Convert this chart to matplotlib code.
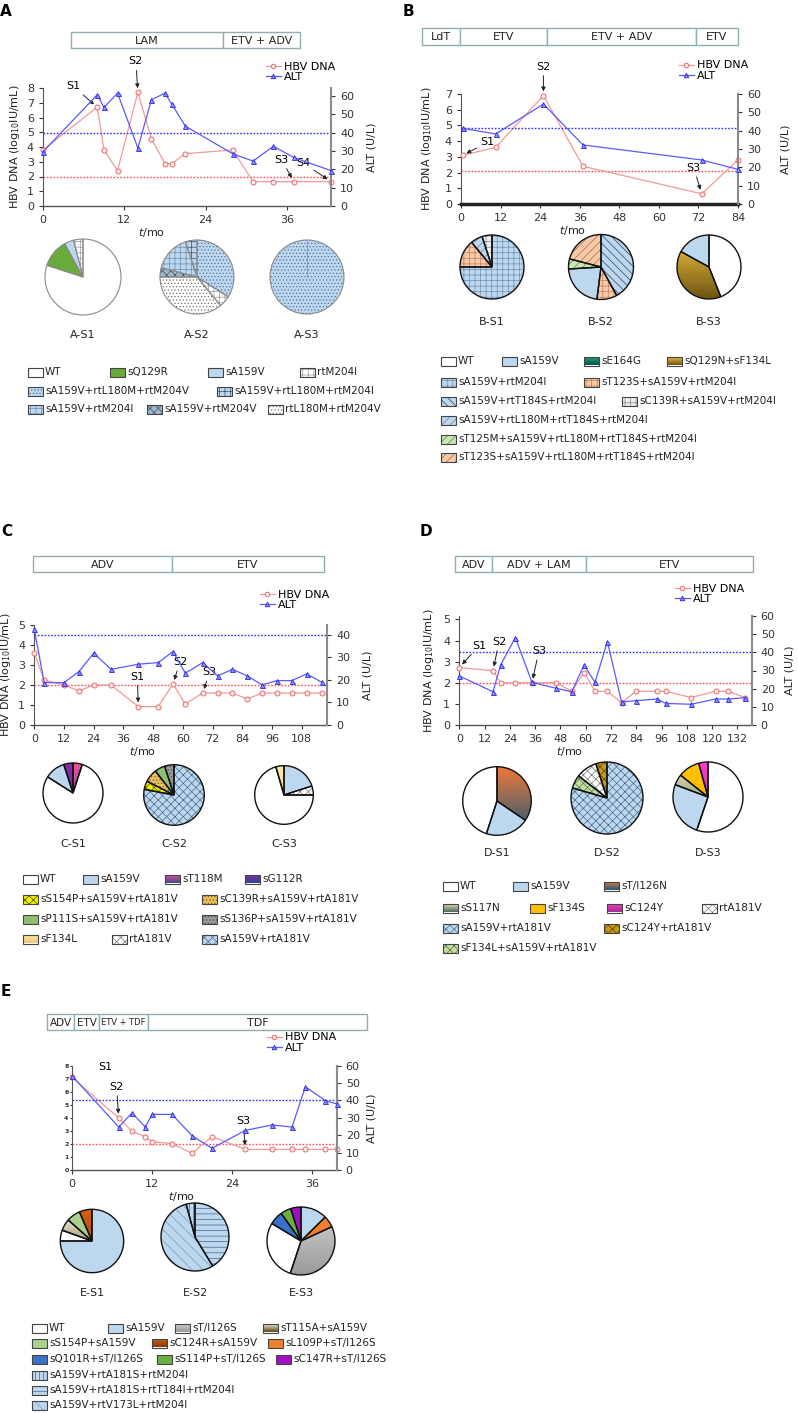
import numpy as np
import matplotlib
matplotlib.use('Agg')
import matplotlib.pyplot as plt
from matplotlib.patches import Rectangle
from matplotlib.colors import LinearSegmentedColormap

W, H = 798, 1413
plt.rcParams['font.family'] = ['DejaVu Sans']
plt.rcParams['hatch.linewidth'] = 0.5

# ---- time courses (months, log10 IU/mL, U/L) ----
a_t = [0, 8, 9, 11, 14, 16, 18, 19, 21, 28, 31, 34, 37, 42.5]
a_dna = [3.8, 6.7, 3.8, 2.4, 7.7, 4.55, 2.87, 2.87, 3.55, 3.8, 1.65, 1.65, 1.65, 1.65]
a_alt = [29.6, 60.7, 53.8, 61.6, 31.6, 58, 61.6, 55.6, 43.6, 28.5, 24.5, 32.6, 26.5, 19.3]

b_t = [0.5, 10.5, 25, 37, 73, 84]
b_dna = [3.1, 3.6, 6.9, 2.4, 0.65, 2.8]
b_alt = [41.3, 38.2, 54.5, 32.2, 24, 18.9]

c_t = [0, 4, 12, 18, 24, 31, 42, 50, 56, 61, 68, 74, 80, 86, 92, 98, 104, 110, 116]
c_dna = [3.6, 2.25, 2.0, 1.7, 2.0, 2.0, 0.92, 0.92, 2.05, 1.05, 1.6, 1.6, 1.6, 1.3, 1.6, 1.6, 1.6, 1.6, 1.6]
c_alt = [42.5, 18.8, 18.8, 23.7, 31.9, 24.7, 27.0, 27.7, 32.6, 23.0, 27.7, 21.8, 24.7, 21.8, 17.8, 19.7, 19.7, 22.7, 19.0]

d_t = [0, 16, 19.6, 26.6, 34.5, 46, 53.4, 59.2, 64.4, 70.3, 77, 84, 94, 98, 110, 121.7, 127.7, 135.5]
d_dna = [2.72, 2.57, 2.0, 2.0, 2.0, 2.0, 1.6, 2.48, 1.6, 1.6, 1.06, 1.6, 1.6, 1.6, 1.3, 1.6, 1.6, 1.3]
d_alt = [27.0, 18.3, 33.0, 48.1, 23.5, 20.2, 18.3, 33.0, 23.5, 45.9, 12.7, 13.4, 14.3, 11.9, 11.4, 14.3, 14.3, 15.0]

e_t = [0, 7, 9, 11, 12, 15, 18, 21, 26, 30, 33, 35, 38, 39.7]
e_dna = [7.1, 4.0, 2.97, 2.56, 2.17, 2.02, 1.28, 2.56, 1.58, 1.58, 1.58, 1.58, 1.58, 1.58]
e_alt = [54.2, 24.7, 32.8, 24.7, 32.0, 32.0, 19.7, 12.5, 22.8, 25.9, 24.7, 47.9, 39.9, 38.0]

# ---- quasispecies composition (%) ----
a_s1 = (['rtM204I', 'sA159V', 'sQ129R', 'WT'], [4, 4, 12, 80])
a_s2 = (['sA159V+rtL180M+rtM204I', 'sA159V+rtM204I', 'sA159V+rtM204V', 'rtL180M+rtM204V',
         'rtM204I', 'sA159V+rtL180M+rtM204V'], [5, 16, 4, 36, 5, 34])
a_s3 = (['sA159V+rtL180M+rtM204V'], [100])

b_s1 = (['sA159V+rtM204I', 'sT123S+sA159V+rtM204I', 'sA159V+rtL180M+rtT184S+rtM204I',
         'sC139R+sA159V+rtM204I'], [75, 14, 6, 5])
b_s2 = (['sA159V+rtT184S+rtM204I', 'sT123S+sA159V+rtM204I', 'sA159V',
         'sT125M+sA159V+rtL180M+rtT184S+rtM204I', 'sT123S+sA159V+rtL180M+rtT184S+rtM204I'],
        [42, 10, 22, 5, 21])
b_s3 = (['WT', 'sQ129N+sF134L', 'sA159V'], [44, 39, 17])

c_s1 = (['sG112R', 'sA159V', 'WT', 'sT118M'], [5, 11, 79, 5])
c_s2 = (['sS136P+sA159V+rtA181V', 'sP111S+sA159V+rtA181V', 'sC139R+sA159V+rtA181V',
         'sS154P+sA159V+rtA181V', 'sA159V+rtA181V'], [5, 5.5, 7, 4.5, 78])
c_s3 = (['sA159V', 'rtA181V', 'WT', 'sF134L'], [20, 5, 70.5, 4.5])

d_s1 = (['sT/I126N', 'sA159V', 'WT'], [34.5, 20.5, 45])
d_s2 = (['sC124Y+rtA181V', 'rtA181V', 'sF134L+sA159V+rtA181V', 'sA159V+rtA181V'], [5, 9.5, 6, 79.5])
d_s3 = (['sC124Y', 'sF134S', 'sS117N', 'sA159V', 'WT'], [4.3, 10, 5, 25.5, 55.2])

e_s1 = (['sC124R+sA159V', 'sS154P+sA159V', 'sT115A+sA159V', 'WT', 'sA159V'], [6.5, 7, 6, 5.5, 75])
e_s2 = (['sA159V+rtA181S+rtT184I+rtM204I', 'sA159V+rtV173L+rtM204I', 'sA159V+rtA181S+rtM204I'],
        [41.3, 54.5, 4.2])
e_s3 = (['sA159V', 'sL109P+sT/I126S', 'sT/I126S', 'WT', 'sQ101R+sT/I126S', 'sS114P+sT/I126S',
         'sC147R+sT/I126S'], [12.6, 5.5, 37, 28.5, 6.5, 5, 4.9])

# name -> (face, hatch, hatch colour, gradient end colour)
BLUE = '#bdd7ee'
STYLES = {
    'WT': ('white', None, None, None),
    'sQ129R': ('#6aaa3a', None, None, None),
    'sA159V': (BLUE, None, None, None),
    'rtM204I': ('white', '+++', '#9a9a9a', None),
    'sA159V+rtL180M+rtM204V': (BLUE, '.....', '#5573a0', None),
    'sA159V+rtL180M+rtM204I': (BLUE, '+++', '#2f4f70', None),
    'sA159V+rtM204I': (BLUE, '+++', '#6f8fb0', None),
    'sA159V+rtM204V': ('#9fb6cc', 'xxxx', '#3f5466', None),
    'rtL180M+rtM204V': ('white', '.....', '#707070', None),
    'sE164G': ('#22b05a', None, None, '#0a4f5a'),
    'sQ129N+sF134L': ('#f5c842', None, None, '#6e5412'),
    'sT123S+sA159V+rtM204I': ('#f6c9a8', '+++', '#c08060', None),
    'sA159V+rtT184S+rtM204I': (BLUE, '\\\\\\\\', '#2f4466', None),
    'sC139R+sA159V+rtM204I': ('#eeeeee', '+++', '#8a8a8a', None),
    'sA159V+rtL180M+rtT184S+rtM204I': (BLUE, '////', '#6688aa', None),
    'sT125M+sA159V+rtL180M+rtT184S+rtM204I': ('#cde5b5', '////', '#4f8a3a', None),
    'sT123S+sA159V+rtL180M+rtT184S+rtM204I': ('#f6c9a8', '////', '#a86a48', None),
    'sT118M': ('#f0509a', None, None, '#404a8a'),
    'sG112R': ('#8a2aa8', None, None, '#2a4a90'),
    'sS154P+sA159V+rtA181V': ('#f0f000', 'xxxx', '#505000', None),
    'sC139R+sA159V+rtA181V': ('#e8c060', '.....', '#806020', None),
    'sP111S+sA159V+rtA181V': ('#90c070', None, None, None),
    'sS136P+sA159V+rtA181V': ('#9a9a9a', '.....', '#505050', None),
    'sF134L': ('#fbe7b0', None, None, '#f0c870'),
    'rtA181V': ('white', 'xxxx', '#7a7a7a', None),
    'sA159V+rtA181V': (BLUE, 'xxxx', '#4a6a8a', None),
    'sT/I126N': ('#f0783a', None, None, '#1f5a78'),
    'sS117N': ('#f5e8b8', None, None, '#4a6a60'),
    'sF134S': ('#ffc000', None, None, None),
    'sC124Y': ('#ff3cc8', None, None, '#a03090'),
    'sC124Y+rtA181V': ('#c89a10', 'xxxx', '#5a4000', None),
    'sF134L+sA159V+rtA181V': ('#c0dca0', 'xxxx', '#5a7a4a', None),
    'sT/I126S': ('#d4d4d4', None, None, '#9a9a9a'),
    'sT115A+sA159V': ('#fffbe8', None, None, '#5a4a18'),
    'sS154P+sA159V': ('#a9d18e', None, None, None),
    'sC124R+sA159V': ('#d8600c', None, None, '#7a3c0a'),
    'sL109P+sT/I126S': ('#f08030', None, None, None),
    'sQ101R+sT/I126S': ('#3a70c8', None, None, None),
    'sS114P+sT/I126S': ('#6ab040', None, None, None),
    'sC147R+sT/I126S': ('#a010c0', None, None, None),
    'sA159V+rtA181S+rtM204I': (BLUE, '||||', '#446688', None),
    'sA159V+rtA181S+rtT184I+rtM204I': (BLUE, '---', '#446688', None),
    'sA159V+rtV173L+rtM204I': (BLUE, '\\\\\\', '#7799bb', None),
}

fig = plt.figure(figsize=(W / 100, H / 100), dpi=100)
canvas = fig.add_axes([0, 0, 1, 1])
canvas.set_xlim(0, W)
canvas.set_ylim(H, 0)
canvas.set_autoscale_on(False)
canvas.axis('off')


def box(x0, y0, x1, y1):
    return [x0 / W, 1 - y1 / H, (x1 - x0) / W, (y1 - y0) / H]


def gradient(ax, patch, c1, c2, extent):
    cmap = LinearSegmentedColormap.from_list('g', [c1, c2])
    im = ax.imshow(np.linspace(0, 1, 64).reshape(-1, 1), cmap=cmap, extent=extent,
                   origin='upper', aspect='auto', interpolation='bilinear',
                   zorder=patch.get_zorder() - 0.1)
    im.set_clip_path(patch)
    patch.set_facecolor('none')


def chart(frame, t, dna, alt, xlim, xticks, ylim, yticks, alt_lim, dna_cut, alt_cut,
          notes, xlab_x, ylab_px, altlab_px, leg_xy, tiny_left=False, heavy_bottom=False):
    x0, y0, x1, y1 = frame
    w, h = x1 - x0, y1 - y0
    ax = fig.add_axes(box(*frame))
    l1, = ax.plot(t, dna, color='#f29a9a', lw=0.9, marker='o', ms=3.6, mfc='#ffecec',
                  mec='#e86b6b', mew=0.7, clip_on=False, zorder=3)
    ax.axhline(dna_cut, color='#ff4d4d', ls=(0, (1.2, 1.2)), lw=1)
    ax.set_xlim(*xlim)
    ax.set_ylim(*ylim)
    ax.set_xticks(xticks)
    ax.set_yticks(yticks)
    for s in ['top', 'right']:
        ax.spines[s].set_visible(False)
    ax.spines['left'].set_color('#555555')
    ax.spines['bottom'].set_color('#222222' if heavy_bottom else '#555555')
    ax.spines['bottom'].set_linewidth(2.5 if heavy_bottom else 1)
    ax.tick_params(labelsize=8, colors='#333333', length=3, width=0.8)
    if tiny_left:
        ax.tick_params(axis='y', labelsize=4.5, length=1.5, pad=1)
        for lab in ax.get_yticklabels():
            lab.set_fontweight('bold')
    else:
        ax.set_ylabel('HBV DNA (log$_{10}$IU/mL)', fontsize=8, color='#222222')
        ax.yaxis.set_label_coords((ylab_px - x0) / w, 0.5)
    ax.set_xlabel('$t$/mo', fontsize=8, color='#222222')
    ax.xaxis.set_label_coords((xlab_x - x0) / w, -20 / h)

    ax2 = ax.twinx()
    l2, = ax2.plot(t, alt, color='#5a5aff', lw=0.9, marker='^', ms=3.6, mfc='#8c8cff',
                   mec='#2828e0', mew=0.6, clip_on=False, zorder=3)
    ax2.axhline(alt_cut, color='#3030ff', ls=(0, (1.2, 1.2)), lw=1)
    ax2.set_ylim(*alt_lim)
    ax2.set_yticks(range(0, int(alt_lim[1]) + 1, 10))
    for s in ['top', 'left', 'bottom']:
        ax2.spines[s].set_visible(False)
    ax2.spines['right'].set_color('#8a8a8a')
    ax2.spines['right'].set_linewidth(1.5)
    ax2.tick_params(labelsize=8, colors='#333333', length=3, width=0.8)
    ax2.set_ylabel('ALT (U/L)', fontsize=8, color='#222222')
    ax2.yaxis.set_label_coords((altlab_px - x0) / w, 0.5)

    for lab, tx, vy, dx, dy in notes:
        arrow = None
        if lab != 'S1*':
            arrow = dict(arrowstyle='-|>', color='#222222', lw=0.7, mutation_scale=6,
                         shrinkA=1, shrinkB=3)
        ax.annotate(lab.rstrip('*'), xy=(tx, vy), xytext=(dx, dy), textcoords='offset pixels',
                    ha='center', va='center', fontsize=8, arrowprops=arrow, zorder=5)

    tx, ty = leg_xy
    fig.legend([l1, l2], ['HBV DNA', 'ALT'], loc='upper left',
               bbox_to_anchor=((tx - 17.8) / W, 1 - (ty - 6.5) / H), frameon=False,
               fontsize=8, handlelength=1.3, handletextpad=0.3, labelspacing=0.05,
               borderpad=0, borderaxespad=0, markerscale=0.9)


def pie(cx, cy, r, comp, ccw, edge, lw, label, label_y):
    names, shares = comp
    pad = (r + 2) / r
    ax = fig.add_axes(box(cx - r - 2, cy - r - 2, cx + r + 2, cy + r + 2))
    wedges, _ = ax.pie(shares, startangle=90, counterclock=ccw, radius=1,
                       wedgeprops=dict(linewidth=0))
    for wdg, n in zip(wedges, names):
        fc, hatch, hc, g2 = STYLES[n]
        wdg.set_facecolor(fc)
        if hatch:
            wdg.set_hatch(hatch)
            wdg.set_edgecolor(hc)
            wdg.set_linewidth(0)
        if g2:
            gradient(ax, wdg, fc, g2, (-1, 1, -1, 1))
    ax.pie(shares, startangle=90, counterclock=ccw, radius=1,
           wedgeprops=dict(facecolor='none', edgecolor=edge, linewidth=lw))
    if len(shares) == 1:
        ax.plot([0, 0], [0, 1], color=edge, lw=lw * 0.6)
    ax.set_xlim(-pad, pad)
    ax.set_ylim(-pad, pad)
    ax.set_aspect('equal')
    ax.axis('off')
    canvas.text(cx, label_y, label, ha='center', va='center', fontsize=8, color='#222222')


def swatch(name, x, y):
    fc, hatch, hc, g2 = STYLES[name]
    rect = Rectangle((x, y - 4.5), 15, 9, facecolor=fc, hatch=hatch,
                     edgecolor=hc if hatch else 'none', lw=0)
    canvas.add_patch(rect)
    if g2:
        gradient(canvas, rect, fc, g2, (x, x + 15, y + 4.5, y - 4.5))
    canvas.add_patch(Rectangle((x, y - 4.5), 15, 9, facecolor='none', edgecolor='#444444', lw=0.8))
    canvas.text(x + 17, y, name, ha='left', va='center', fontsize=7.5, color='#222222')


def therapy(edges, y0, y1, labels, sizes=None):
    for i, lab in enumerate(labels):
        canvas.add_patch(Rectangle((edges[i], y0), edges[i + 1] - edges[i], y1 - y0,
                                   facecolor='white', edgecolor='#8fb0b0', lw=1))
        fs = sizes[i] if sizes else 8
        canvas.text((edges[i] + edges[i + 1]) / 2, (y0 + y1) / 2 + 0.5, lab, ha='center',
                    va='center', fontsize=fs, color='#222222')


# panel letters
for letter, x, y in [('A', 6, 12), ('B', 408, 11), ('C', 7, 532), ('D', 426, 532), ('E', 6, 991)]:
    canvas.text(x, y, letter, ha='center', va='center', fontsize=11, fontweight='bold')

# therapy bars
therapy([71, 223, 300], 32, 48, ['LAM', 'ETV + ADV'])
therapy([422, 460, 547, 696, 738], 28, 45, ['LdT', 'ETV', 'ETV + ADV', 'ETV'])
therapy([33, 172, 324], 556, 572, ['ADV', 'ETV'])
therapy([455, 492, 586, 753], 556, 572, ['ADV', 'ADV + LAM', 'ETV'])
therapy([47, 74, 99, 148, 367], 1014, 1030, ['ADV', 'ETV', 'ETV + TDF', 'TDF'], [7.5, 7.5, 6, 8])

# line charts
chart((43, 88, 331, 206), a_t, a_dna, a_alt, (0, 42.5), [0, 12, 24, 36], (0, 8), range(9),
      (0, 64.4), 2, 40,
      [('S1', 8, 6.7, -24, 21), ('S2', 14, 7.7, -2, 31), ('S3', 37, 1.65, -12, 22),
       ('S4', 42.5, 1.65, -28, 19)],
      152, 22, 366, (284, 68))
chart((461, 94, 738, 204), b_t, b_dna, b_alt, (0, 84), range(0, 85, 12), (0, 7), range(8),
      (0, 60), 2.1, 41.5,
      [('S1', 0.5, 3.1, 25, 13), ('S2', 25, 6.9, 0, 29), ('S3', 73, 0.65, -8, 26)],
      573, 434, 780, (697, 67), heavy_bottom=True)
chart((34.3, 625, 327, 725), c_t, c_dna, c_alt, (0, 118.2), range(0, 109, 12), (0, 5), range(6),
      (0, 44.4), 2, 40,
      [('S1', 42, 0.92, -1, 30), ('S2', 56, 2.05, 7, 22), ('S3', 68, 1.6, 7, 21)],
      143, 13, 362, (278, 596))
chart((459.3, 616, 751.7, 725), d_t, d_dna, d_alt, (0, 138.8), range(0, 133, 12), (0, 5.16),
      range(6), (0, 60), 2, 40,
      [('S1', 0, 2.72, 20, 22), ('S2', 16, 2.57, 6, 29), ('S3', 34.5, 2.0, 7, 32)],
      570, 436, 785, (693, 590))
chart((72, 1065.7, 336.7, 1170), e_t, e_dna, e_alt, (0, 39.7), [0, 12, 24, 36], (0, 8), range(9),
      (0, 60), 2, 40,
      [('S1*', 0, 7.1, 33, 10), ('S2', 7, 4.0, -2, 31), ('S3', 26, 1.58, -2, 28)],
      182, 0, 367, (285, 1039), tiny_left=True)

# pies
pie(83, 277, 38, a_s1, True, '#8a8a8a', 0.8, 'A-S1', 335)
pie(197, 277, 37, a_s2, True, '#8a8a8a', 0.8, 'A-S2', 335)
pie(307, 277, 37, a_s3, True, '#8a8a8a', 0.8, 'A-S3', 335)
pie(492, 267, 32, b_s1, False, '#111111', 1.0, 'B-S1', 322)
pie(601, 267, 32.5, b_s2, False, '#111111', 1.0, 'B-S2', 322)
pie(709, 267, 32, b_s3, False, '#111111', 1.0, 'B-S3', 322)
pie(73, 793, 30, c_s1, True, '#111111', 1.0, 'C-S1', 844)
pie(174, 795, 30.3, c_s2, True, '#111111', 1.0, 'C-S2', 844)
pie(284, 795, 29.3, c_s3, False, '#111111', 1.0, 'C-S3', 844)
pie(497, 801, 34.3, d_s1, False, '#111111', 1.0, 'D-S1', 853)
pie(607, 798, 36, d_s2, True, '#111111', 1.0, 'D-S2', 853)
pie(708, 797, 35, d_s3, True, '#111111', 1.0, 'D-S3', 853)
pie(92, 1241, 31.7, e_s1, True, '#111111', 1.0, 'E-S1', 1293)
pie(195, 1237, 34, e_s2, False, '#111111', 1.0, 'E-S2', 1293)
pie(301, 1241, 34, e_s3, False, '#111111', 1.0, 'E-S3', 1293)

# legends of variants: rows of (name, x) at y
legend_rows = [
    (372, [('WT', 28), ('sQ129R', 110), ('sA159V', 208), ('rtM204I', 300)]),
    (391, [('sA159V+rtL180M+rtM204V', 28), ('sA159V+rtL180M+rtM204I', 217)]),
    (409, [('sA159V+rtM204I', 28), ('sA159V+rtM204V', 147), ('rtL180M+rtM204V', 268)]),
    (361, [('WT', 441), ('sA159V', 502), ('sE164G', 584), ('sQ129N+sF134L', 667)]),
    (382, [('sA159V+rtM204I', 441), ('sT123S+sA159V+rtM204I', 584)]),
    (401, [('sA159V+rtT184S+rtM204I', 441), ('sC139R+sA159V+rtM204I', 622)]),
    (420, [('sA159V+rtL180M+rtT184S+rtM204I', 441)]),
    (439, [('sT125M+sA159V+rtL180M+rtT184S+rtM204I', 441)]),
    (457, [('sT123S+sA159V+rtL180M+rtT184S+rtM204I', 441)]),
    (879, [('WT', 23), ('sA159V', 83), ('sT118M', 165), ('sG112R', 245)]),
    (899, [('sS154P+sA159V+rtA181V', 23), ('sC139R+sA159V+rtA181V', 202)]),
    (919, [('sP111S+sA159V+rtA181V', 23), ('sS136P+sA159V+rtA181V', 202)]),
    (939, [('sF134L', 23), ('rtA181V', 112), ('sA159V+rtA181V', 202)]),
    (886, [('WT', 443), ('sA159V', 513), ('sT/I126N', 604)]),
    (908, [('sS117N', 443), ('sF134S', 530), ('sC124Y', 607), ('rtA181V', 702)]),
    (928, [('sA159V+rtA181V', 443), ('sC124Y+rtA181V', 604)]),
    (948, [('sF134L+sA159V+rtA181V', 443)]),
    (1328, [('WT', 32), ('sA159V', 108), ('sT/I126S', 175), ('sT115A+sA159V', 263)]),
    (1343, [('sS154P+sA159V', 32), ('sC124R+sA159V', 152), ('sL109P+sT/I126S', 268)]),
    (1359, [('sQ101R+sT/I126S', 32), ('sS114P+sT/I126S', 157), ('sC147R+sT/I126S', 276)]),
    (1375, [('sA159V+rtA181S+rtM204I', 32)]),
    (1390, [('sA159V+rtA181S+rtT184I+rtM204I', 32)]),
    (1405, [('sA159V+rtV173L+rtM204I', 32)]),
]
for y, items in legend_rows:
    for name, x in items:
        swatch(name, x, y)

fig.savefig('out.png', dpi=100)
